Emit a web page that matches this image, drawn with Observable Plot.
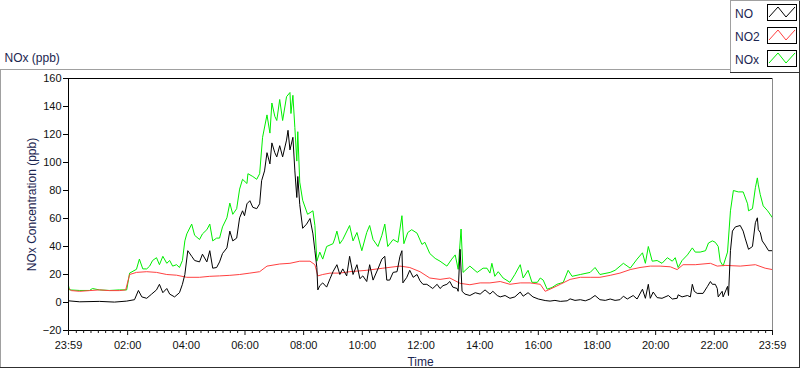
<!DOCTYPE html>
<html><head><meta charset="utf-8">
<script src="https://cdn.jsdelivr.net/npm/d3@7"></script>
<script src="https://cdn.jsdelivr.net/npm/@observablehq/plot@0.6"></script>
<style>
body{margin:0;background:#fff;font-family:"Liberation Sans",Arial,sans-serif;}
#wrap{position:relative;width:800px;height:369px;overflow:hidden;background:#fff;}
.ln{position:absolute;}
.lg{position:absolute;left:735px;font-size:12px;line-height:14px;color:#1b2550;}
.sw{position:absolute;left:767px;width:28px;height:15px;border:1px solid #000;background:#fff;}
</style></head><body><div id="wrap"></div>
<script>
// Time in minutes since midnight (-1 = 23:59 of previous day)
const noT = [-1,22,62,93,118,134,142,149,159,169,179,185,192,200,206,216,226,232,237,243,251,257,267,273,282,288,294,302,308,314,323,329,335,343,349,355,359,364,370,376,384,390,394,400,405,411,415,421,425,431,437,445,448,452,458,462,466,468,472,478,486,493,499,503,507,509,513,519,527,534,540,548,554,560,568,574,581,589,595,601,609,615,622,632,640,646,650,656,663,671,677,681,683,691,697,704,712,718,724,732,738,744,753,759,765,773,779,785,794,796,800,804,810,820,831,841,851,861,867,876,882,892,902,912,923,929,939,949,960,974,984,994,1005,1019,1025,1035,1046,1056,1066,1076,1086,1097,1107,1117,1127,1134,1142,1154,1162,1173,1179,1185,1189,1195,1203,1213,1226,1234,1244,1246,1254,1265,1271,1275,1279,1285,1297,1306,1312,1316,1322,1326,1328,1336,1338,1347,1349,1353,1357,1363,1373,1379,1383,1390,1398,1404,1408,1410,1414,1418,1424,1431,1439];
const noV = [1.2,0.5,0.8,0.3,1,2,8.6,4,3,6,9,13,7,10,6,4,7,13,20,37,33,30,29,34.5,29,37,24.5,25,29,35,39,51,44,46,60.5,65.5,62,70.5,72.7,68,67,70.5,87,94,107,99,114,107,104,112,104,116,123,109,118,94,75,90,70,53,56,60,49,37,25,9,12,14,11,17,22,27,20,24,19,33,20,27,17,19,15,27,16,24,31,33,16,16,21.5,22,33,37,14,18,23,18,20,15.5,13,13,11.5,10,13,10,12,13,15,11,10,8,38,8,6,5,7,6,9,6,8,5,4,5,3,4,7.5,4.5,7,4,2.5,1.4,1,1.5,0.8,1.2,2.6,1.5,2,1.2,2.5,5,2,1.5,2.5,1.5,2,4.5,2.5,5,2.5,9.5,3,13,3,7.5,3.5,3,5,2.5,3,5.5,4,5,4,13,8,6.5,6.5,11.5,15,13,13,10,4,8,4,11.5,5,37,51,54,55,51,46,38,40,57,60.5,52,50,44,41,37,37];

const no2T = [-1,5,22,42,62,83,103,116,124,138,159,179,200,220,241,267,288,308,329,349,370,390,405,431,452,472,493,503,509,519,534,554,574,609,642,677,697,718,738,759,779,800,820,841,861,882,902,923,943,964,974,984,1005,1025,1046,1066,1086,1107,1127,1148,1168,1189,1209,1230,1244,1256,1281,1312,1326,1342,1373,1404,1424,1439];
const no2V = [10,8.5,8,8.5,9,8.5,8.5,9,20,21.5,22,21.5,20,19.5,18,18,18.7,19,19.4,20,21,22,26,27.5,28,29.5,29.5,27,19,20,21,21,22,23,24.5,26,25,22,17.5,16.5,17.5,13.7,12.7,14,14,15,13,14,14,13,8,9.5,13,16.5,18,18,18,19.4,21,23.5,25,26,26,25.5,23.5,27,27,28,26,26.5,26,27,24.5,23.5];

const noxT = [-1,1,22,42,48,62,83,103,118,124,138,144,151,159,165,171,179,185,192,200,206,212,220,226,232,237,241,251,257,267,273,282,288,294,302,308,314,323,329,335,343,349,355,364,366,376,384,390,396,405,411,415,421,425,431,437,445,452,454,458,462,466,468,472,478,488,499,503,507,513,519,527,540,544,548,554,560,574,581,589,599,609,615,622,632,640,646,652,663,673,681,685,693,701,712,722,728,738,749,759,773,783,790,796,802,806,820,835,847,855,861,865,871,878,888,902,912,923,929,939,947,958,964,970,978,988,998,1011,1021,1029,1046,1066,1076,1086,1107,1117,1134,1148,1162,1173,1179,1185,1193,1203,1213,1224,1234,1240,1246,1254,1265,1275,1281,1291,1302,1308,1316,1322,1328,1332,1338,1347,1353,1359,1369,1379,1388,1390,1398,1404,1408,1410,1414,1420,1429,1439];
const noxV = [12,9,8.6,8.6,10,9,8.6,9,9,21,23.7,31,24,24,26,30,32,27,33,28,30,26,27,25,30,44,49,56,48,45,49,52,56,44,46,46,54,60.5,71,63,67,81,88,85,92,90,88,92,118,134,121,142.5,133,130,145,130,147,150,135,148,125,101,122,86,73,63,65.5,55,29.5,36,31,40,42,46,51,42,45,55,44,50,37,50,55,45,40,48,56,40,45,43,62,42,50,52,49.5,41.5,43,35,31.5,29.5,26,31,34,23.7,52.5,21.5,26,21.5,24.5,24.5,21,28,18.7,22,17.5,14.4,20,27,17.5,23,14.4,14.4,17.5,16,9.5,10.7,13,14.4,23,18.7,20,21.5,25,20,21.5,23,28,24.5,31,35.5,28,40,29.5,30,28,32,29.5,32,25,30,34,39,36,36,37,42.5,44,43,40,29.5,26,36,65.5,80,79,79,70.5,65.5,67,82,89,84,77,69,65.5,60.5];

const seriesNames = ["NO", "NO2", "NOx"];
const seriesColors = ["#000000", "#ff4040", "#00ee00"];
const yTicks = [-20, 0, 20, 40, 60, 80, 100, 120, 140, 160];
const xMajorTicks = [-1, 120, 240, 360, 480, 600, 720, 840, 960, 1080, 1200, 1320, 1439];
const xTickLabels = ["23:59","02:00","04:00","06:00","08:00","10:00","12:00","14:00","16:00","18:00","20:00","22:00","23:59"];
const yTitle = "NOx Concentration (ppb)";
const xTitle = "Time";
const chartTitle = "NOx (ppb)";

const toRows = (T, V) => T.map((t, i) => ({t, v: V[i]}));
const noRows = toRows(noT, noV);
const no2Rows = toRows(no2T, no2V);
const noxRows = toRows(noxT, noxV);
const labelMap = new Map(xMajorTicks.map((d, i) => [d, xTickLabels[i]]));
const minorTicks = d3.range(15, 1440, 15).filter(m => m % 120 !== 0);
const txt = "#1b2550";

const chart = Plot.plot({
  width: 800, height: 369,
  marginLeft: 68, marginRight: 28, marginTop: 78, marginBottom: 39,
  style: {fontFamily: "'Liberation Sans', Arial, sans-serif", fontSize: "11px", color: "#111", background: "transparent"},
  x: {domain: [-1, 1439]},
  y: {domain: [-20, 160]},
  marks: [
    Plot.line(noxRows, {x: "t", y: "v", stroke: seriesColors[2], strokeWidth: 1}),
    Plot.line(no2Rows, {x: "t", y: "v", stroke: seriesColors[1], strokeWidth: 1}),
    Plot.line(noRows, {x: "t", y: "v", stroke: seriesColors[0], strokeWidth: 1}),
    Plot.frame({stroke: "#000"}),
    Plot.ruleX([1439], {stroke: "#8a8a8a"}),
    Plot.axisY({ticks: yTicks, tickSize: 5, tickPadding: 2, label: null, stroke: "#000"}),
    Plot.axisX({ticks: xMajorTicks, tickSize: 5, tickPadding: 6, tickFormat: d => labelMap.get(d), label: null}),
    Plot.axisX({ticks: minorTicks, tickSize: 3, tickFormat: () => "", text: null, label: null}),
    Plot.text([yTitle], {frameAnchor: "left", dx: -36, rotate: -90, textAnchor: "middle", lineAnchor: "middle", fontSize: 12, fill: txt}),
    Plot.text([xTitle], {frameAnchor: "bottom", dy: 32, textAnchor: "middle", lineAnchor: "middle", fontSize: 12, fill: txt}),
    Plot.text([chartTitle], {frameAnchor: "top-left", dx: -64, dy: -20, textAnchor: "start", lineAnchor: "middle", fontSize: 12, fill: txt})
  ]
});
const wrap = document.getElementById("wrap");
wrap.appendChild(chart);

// panel borders
function line(l, t, w, h, c) {
  const d = document.createElement("div");
  d.className = "ln";
  Object.assign(d.style, {left: l + "px", top: t + "px", width: w + "px", height: h + "px", background: c});
  wrap.appendChild(d);
}
line(0, 69, 730, 1, "#a0a0a0");
line(0, 69, 1, 299, "#a0a0a0");
line(0, 367, 800, 1, "#303030");
line(799, 0, 1, 368, "#303030");
line(730, 0, 1, 72, "#a0a0a0");
line(730, 0, 70, 1, "#a0a0a0");
line(730, 72, 70, 1, "#303030");

// legend
seriesNames.forEach((name, i) => {
  const lab = document.createElement("div");
  lab.className = "lg";
  lab.style.top = (7 + i * 23) + "px";
  lab.textContent = name;
  wrap.appendChild(lab);
  const sw = document.createElement("div");
  sw.className = "sw";
  sw.style.top = (4 + i * 23) + "px";
  sw.innerHTML = `<svg width="28" height="15"><polyline points="1,12 10,2 18,12 27,2" fill="none" stroke="${seriesColors[i]}" stroke-width="1"/></svg>`;
  wrap.appendChild(sw);
});
</script></body></html>
